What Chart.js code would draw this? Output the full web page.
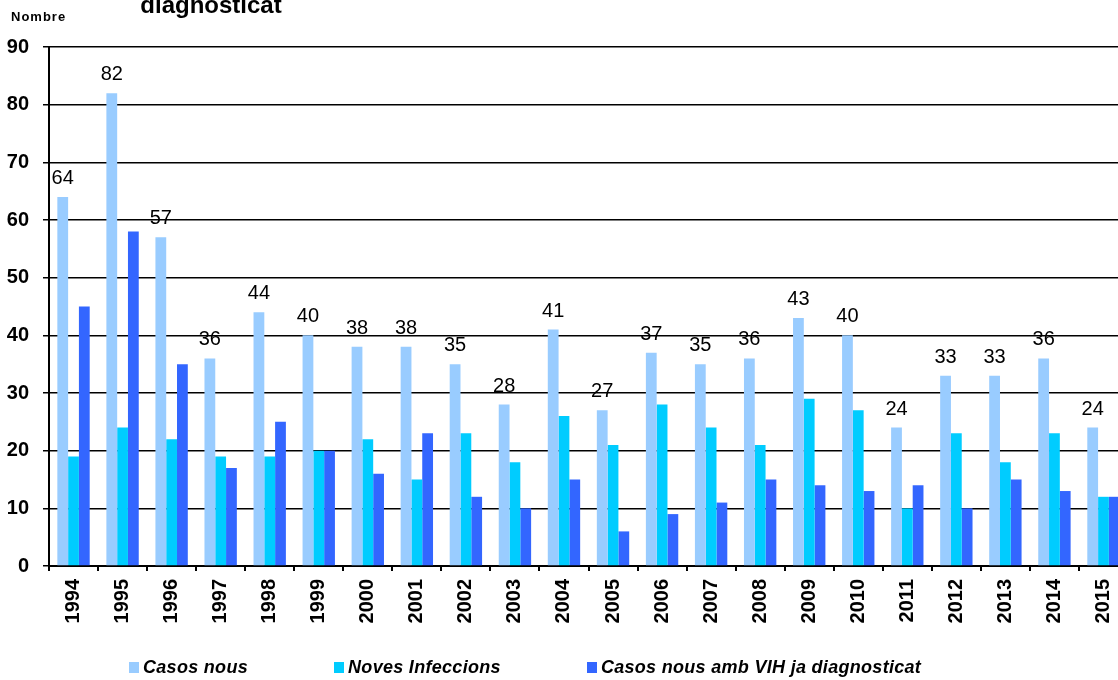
<!DOCTYPE html>
<html>
<head>
<meta charset="utf-8">
<script src="https://cdn.jsdelivr.net/npm/chart.js@4/dist/chart.umd.min.js"></script>
<style>
  html, body { margin: 0; padding: 0; background: #fff; overflow: hidden; width: 1118px; height: 680px; }
  #wrap { position: relative; width: 1140px; height: 680px; }
  #legend { position: absolute; left: 129px; top: 657px; display: flex; font: italic bold 18px "Liberation Sans", Arial, sans-serif; letter-spacing: 0.3px; color: #000; }
  #legend .item { display: flex; align-items: center; margin-right: 86px; }
  #legend .box { width: 10px; height: 11px; margin-right: 4px; }
</style>
</head>
<body>
<div id="wrap">
  <canvas id="vihChart" width="1140" height="680"></canvas>
  <div id="legend"></div>
</div>
<script>
var years = ["1994", "1995", "1996", "1997", "1998", "1999", "2000", "2001", "2002", "2003", "2004",
             "2005", "2006", "2007", "2008", "2009", "2010", "2011", "2012", "2013", "2014", "2015"];
var casosNous = [64, 82, 57, 36, 44, 40, 38, 38, 35, 28, 41, 27, 37, 35, 36, 43, 40, 24, 33, 33, 36, 24];
var novesInfeccions = [19, 24, 22, 19, 19, 20, 22, 15, 23, 18, 26, 21, 28, 24, 21, 29, 27, 10, 23, 18, 23, 12];
var casosAmbVih = [45, 58, 35, 17, 25, 20, 16, 23, 12, 10, 15, 6, 9, 11, 15, 14, 13, 14, 10, 15, 13, 12];
var seriesNames = ["Casos nous", "Noves Infeccions", "Casos nous amb VIH ja diagnosticat"];
var seriesColors = ["#99ccff", "#00ccff", "#3366ff"];
var yMax = 90;
var yStep = 10;
var axisTitle = "Nombre";
var titleText = "diagnosticat";

// value labels above the "Casos nous" bars + the texts at the top
var extraText = {
  id: "extraText",
  afterDatasetsDraw(chart) {
    var ctx = chart.ctx;
    var meta = chart.getDatasetMeta(0);
    ctx.save();
    ctx.fillStyle = "#000";
    ctx.font = "20px 'Liberation Sans', Arial, sans-serif";
    ctx.textAlign = "center";
    ctx.textBaseline = "alphabetic";
    meta.data.forEach((bar, i) => {
      ctx.fillText(String(casosNous[i]), bar.x, bar.y - 13);
    });
    ctx.font = "bold 13px 'Liberation Sans', Arial, sans-serif";
    ctx.letterSpacing = "1px";
    ctx.textAlign = "left";
    ctx.textBaseline = "middle";
    ctx.fillText(axisTitle, 11, 17);
    ctx.letterSpacing = "0px";
    ctx.font = "bold 24px 'Liberation Sans', Arial, sans-serif";
    ctx.textAlign = "center";
    ctx.textBaseline = "alphabetic";
    ctx.fillText(titleText, 211, 13);
    ctx.restore();
  },
};

new Chart(document.getElementById("vihChart"), {
  type: "bar",
  data: {
    labels: years,
    datasets: [
      { label: seriesNames[0], data: casosNous, backgroundColor: seriesColors[0] },
      { label: seriesNames[1], data: novesInfeccions, backgroundColor: seriesColors[1] },
      { label: seriesNames[2], data: casosAmbVih, backgroundColor: seriesColors[2] },
    ],
  },
  options: {
    responsive: false,
    animation: false,
    datasets: {
      bar: { categoryPercentage: 0.66, barPercentage: 1.0 },
    },
    layout: { padding: { top: 47, bottom: 44, left: 0, right: 12 } },
    plugins: {
      legend: { display: false },
      title: { display: false },
      tooltip: { enabled: false },
    },
    scales: {
      x: {
        grid: { display: true, drawOnChartArea: false, drawTicks: true, tickLength: 5, color: "#000", lineWidth: 2, offset: true },
        border: { display: true, color: "#000", width: 2 },
        ticks: {
          color: "#000",
          font: { family: "'Liberation Sans', Arial, sans-serif", size: 20, weight: "bold" },
          minRotation: 90,
          maxRotation: 90,
          padding: 8,
          autoSkip: false,
        },
        afterFit(scale) { scale.height = 70; },
      },
      y: {
        min: 0,
        max: yMax,
        ticks: {
          stepSize: yStep,
          color: "#000",
          padding: 14,
          font: { family: "'Liberation Sans', Arial, sans-serif", size: 20, weight: "bold" },
        },
        grid: { color: "#000", lineWidth: 1.5, tickLength: 6 },
        border: { display: true, color: "#000", width: 2 },
        afterFit(scale) { scale.width = 49; },
      },
    },
  },
  plugins: [extraText],
});

var legendEl = document.getElementById("legend");
seriesNames.forEach((name, i) => {
  var item = document.createElement("div");
  item.className = "item";
  var box = document.createElement("span");
  box.className = "box";
  box.style.background = seriesColors[i];
  var txt = document.createElement("span");
  txt.textContent = name;
  item.appendChild(box);
  item.appendChild(txt);
  legendEl.appendChild(item);
});
</script>
</body>
</html>
